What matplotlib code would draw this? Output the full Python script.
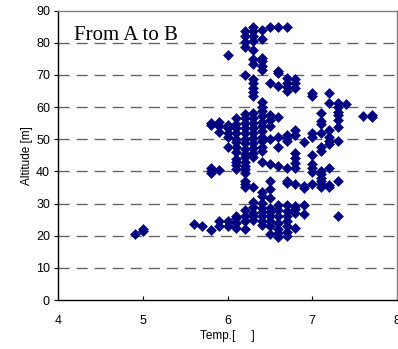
import matplotlib
matplotlib.use("Agg")
import matplotlib.pyplot as plt

# temperature columns and the altitudes read at each column
t_cols = [4.9, 5.0, 5.6, 5.7, 5.8, 5.9, 6.0, 6.1, 6.2, 6.3, 6.4, 6.5,
          6.6, 6.7, 6.8, 6.9, 7.0, 7.1, 7.2, 7.3, 7.4, 7.6, 7.7]
alt_cols = [
    [20.6],
    [21.4, 22.0],
    [23.7],
    [22.9],
    [21.8, 39.5, 40.0, 41.0, 54.4, 55.0],
    [22.9, 24.5, 40.5, 52.4, 54.0, 55.4],
    [23.0, 24.5, 47.5, 50.8, 51.8, 53.4, 54.4, 76.3],
    [22.4, 23.9, 25.5, 26.2, 40.9, 41.9, 43.0, 44.0, 46.0, 47.6, 49.2,
     50.2, 51.8, 53.4, 54.8, 56.6],
    [22.1, 24.5, 26.1, 28.0, 35.0, 36.0, 37.1, 39.6, 40.7, 41.7, 43.0,
     44.4, 45.5, 47.0, 48.7, 50.2, 52.0, 53.4, 55.0, 56.6, 58.0, 70.0,
     78.7, 80.4, 82.0, 83.8],
    [25.0, 26.0, 27.0, 29.0, 30.5, 35.0, 44.5, 45.8, 47.3, 48.8, 50.3,
     51.9, 53.5, 55.0, 56.6, 58.2, 63.4, 64.7, 66.0, 67.4, 68.6, 73.3,
     75.0, 77.8, 80.6, 82.2, 83.8, 85.0],
    [23.2, 24.5, 26.1, 27.3, 28.7, 30.2, 32.3, 33.5, 43.0, 46.5, 47.6,
     49.5, 50.8, 52.7, 54.0, 55.5, 57.1, 58.7, 60.0, 61.5, 71.5, 72.8,
     74.2, 75.4, 81.2, 84.1],
    [20.4, 22.9, 24.5, 26.1, 27.3, 28.7, 31.8, 34.4, 37.0, 42.3, 50.0,
     54.2, 56.0, 57.6, 67.4, 84.8],
    [19.5, 20.8, 22.1, 23.9, 26.2, 28.1, 29.7, 41.6, 47.6, 50.8, 56.8,
     66.7, 70.5, 71.3, 84.8],
    [19.8, 21.3, 22.9, 24.5, 26.1, 27.7, 29.5, 36.3, 37.1, 41.2, 49.5,
     50.5, 51.2, 65.0, 66.3, 67.6, 69.0, 84.8],
    [22.4, 27.0, 28.3, 29.1, 36.0, 41.2, 42.7, 44.2, 45.8, 51.2, 52.8,
     66.0, 67.6, 68.9],
    [26.6, 29.7, 34.8, 35.6, 49.3],
    [36.0, 39.7, 41.1, 42.2, 45.0, 50.8, 51.8, 63.4, 64.4],
    [35.0, 36.0, 37.1, 38.1, 39.2, 40.2, 46.5, 47.6, 52.1, 54.8, 55.8,
     58.2],
    [35.0, 35.7, 41.1, 48.4, 49.6, 50.8, 52.9, 61.4, 64.4],
    [26.2, 37.1, 49.6, 53.8, 56.0, 57.6, 58.6, 60.0, 61.2],
    [61.0],
    [57.1],
    [56.8, 57.6],
]

temp = []
alt = []
for t, col in zip(t_cols, alt_cols):
    temp += [t] * len(col)
    alt += col

plt.rcParams['font.family'] = ['Liberation Sans', 'DejaVu Sans']

fig = plt.figure(figsize=(3.98, 3.49), dpi=100)
ax = fig.add_axes([0.1465, 0.1404, 0.851, 0.829])

for yv in range(10, 90, 10):
    ax.axhline(yv, color='#666666', lw=1.0, dashes=(8, 5), zorder=1)

ax.plot(temp, alt, 'D', color='#000080', ms=5.0, mec='#000080', mew=0.4,
        zorder=3, clip_on=False)

ax.set_xlim(4, 8)
ax.set_ylim(0, 90)
ax.set_xticks([4, 5, 6, 7, 8])
ax.set_yticks(range(0, 100, 10))
ax.tick_params(axis='x', direction='in', length=3, labelsize=9, pad=11)
ax.tick_params(axis='y', direction='out', length=3, labelsize=9, pad=3)

for s in ['top', 'right']:
    ax.spines[s].set_color('#808080')
for s in ax.spines.values():
    s.set_linewidth(1.0)

ax.set_xlabel('Temp.[     ]', fontsize=8.5, labelpad=2)
ax.set_ylabel('Altitude [m]', fontsize=8.5, labelpad=2)

ax.text(0.045, 0.915, 'From A to B', transform=ax.transAxes,
        family='Liberation Serif', fontsize=15, va='center', ha='left')

fig.savefig('out.png', dpi=100)
